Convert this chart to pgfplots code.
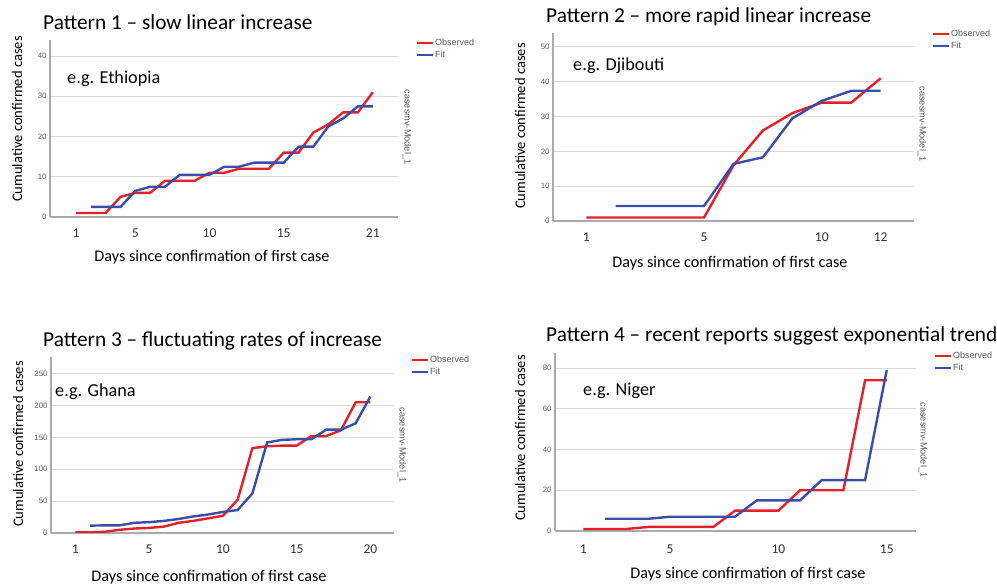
\documentclass[border=0pt]{standalone}
\usepackage{fontspec}
\setmainfont{Carlito}
\newfontfamily\arialf{Liberation Sans}
\usepackage{pgfplots}
\pgfplotsset{compat=1.18}

\definecolor{obsred}{RGB}{230,32,40}
\definecolor{fitblue}{RGB}{56,78,168}
\definecolor{gridgray}{RGB}{218,218,218}
\definecolor{axgray}{RGB}{170,170,170}
\definecolor{txtgray}{RGB}{90,90,90}

\pgfplotsset{
  panel/.style={
    scale only axis,
    axis lines*=left,
    axis line style={axgray, line width=1.3pt},
    ymajorgrids,
    grid style={gridgray, line width=1pt},
    major tick length=0pt,
    ymin=0,
    yticklabel style={font=\arialf\fontsize{7.8}{9}\selectfont, text=txtgray},
    xticklabel style={font=\fontsize{13.5}{15}\selectfont, text=black!80, yshift=-8pt},
    /pgf/number format/assume math mode=true,
    legend style={draw=none, fill=none, font=\arialf\fontsize{9}{10}\selectfont,
      text=txtgray, inner sep=0pt, row sep=2.5pt, nodes={inner sep=0.8pt},
      cells={anchor=west}},
    legend image code/.code={\draw[##1, line width=2pt] (0pt,0pt) -- (16pt,0pt);},
  },
  obs/.style={obsred, line width=2.4pt, no markers},
  fit/.style={fitblue, line width=2.4pt, no markers},
}

\newcommand{\titlefont}{\fontsize{21.3}{25}\selectfont}
\newcommand{\egfont}{\fontsize{18.2}{21}\selectfont}
\newcommand{\ylabfont}{\fontsize{14.6}{17}\selectfont}
\newcommand{\xlabfont}{\fontsize{16.2}{19}\selectfont}
\newcommand{\modfont}{\arialf\fontsize{9.2}{11}\selectfont\color{txtgray}}

\begin{document}
\begin{tikzpicture}
\useasboundingbox (0,0) rectangle (997pt,586pt);

% ---- Pattern 1: Ethiopia
\begin{axis}[panel, at={(50pt,369pt)}, anchor=south west,
  width=348pt, height=177pt,
  xmin=-0.75, xmax=22.7, ymax=44,
  ytick={0,10,20,30,40},
  xtick={1,5,10,15,21},
  legend style={at={(1.052,1.01)}, anchor=north west}]
\addplot[obs] coordinates {(1,1) (2,1) (3,1) (4,5) (5,6) (6,6) (7,9) (8,9) (9,9)
  (10,11) (11,11) (12,12) (13,12) (14,12) (15,16) (16,16) (17,21) (18,23)
  (19,26) (20,26) (21,31)};
\addlegendentry{Observed}
\addplot[fit] coordinates {(2,2.5) (3,2.5) (4,2.5) (5,6.5) (6,7.5) (7,7.5)
  (8,10.5) (9,10.5) (10,10.5) (11,12.5) (12,12.5) (13,13.5) (14,13.5)
  (15,13.5) (16,17.5) (17,17.5) (18,22.5) (19,24.5) (20,27.5) (21,27.5)};
\addlegendentry{Fit}
\end{axis}

% ---- Pattern 2: Djibouti
\begin{axis}[panel, at={(553pt,365pt)}, anchor=south west,
  width=361pt, height=188pt,
  xmin=-1.13, xmax=11.13, ymax=54,
  ytick={0,10,20,30,40,50},
  xtick={0,4,8,10}, xticklabels={1,5,10,12},
  legend style={at={(1.05,1.02)}, anchor=north west}]
\addplot[obs] coordinates {(0,1) (1,1) (2,1) (3,1) (4,1) (5,16) (6,26) (7,31)
  (8,34) (9,34) (10,41)};
\addlegendentry{Observed}
\addplot[fit] coordinates {(1,4.3) (2,4.3) (3,4.3) (4,4.3) (5,16.4) (6,18.3)
  (7,29.5) (8,34.5) (9,37.4) (10,37.4)};
\addlegendentry{Fit}
\end{axis}

% ---- Pattern 3: Ghana
\begin{axis}[panel, at={(51pt,53pt)}, anchor=south west,
  width=343pt, height=176pt,
  xmin=-1.65, xmax=21.6, ymax=276,
  ytick={0,50,100,150,200,250},
  xtick={0,5,10,15,20}, xticklabels={1,5,10,15,20},
  legend style={at={(1.05,1.01)}, anchor=north west}]
\addplot[obs] coordinates {(0,1) (1,1) (2,2) (3,5) (4,7) (5,8) (6,10) (7,16)
  (8,19) (9,23) (10,27) (11,52) (12,133) (13,136) (14,137) (15,137) (16,152)
  (17,152) (18,161) (19,205) (20,205)};
\addlegendentry{Observed}
\addplot[fit] coordinates {(1,11.5) (2,12) (3,12) (4,16) (5,17) (6,19) (7,22)
  (8,26) (9,29) (10,33) (11,36) (12,62) (13,142) (14,146) (15,147) (16,147)
  (17,162) (18,162) (19,172) (20,214)};
\addlegendentry{Fit}
\end{axis}

% ---- Pattern 4: Niger
\begin{axis}[panel, at={(555pt,55pt)}, anchor=south west,
  width=361pt, height=178pt,
  xmin=-0.31, xmax=16.35, ymax=87.4,
  ytick={0,20,40,60,80},
  xtick={1,5,10,15},
  xticklabel style={yshift=-2pt},
  legend style={at={(1.05,1.01)}, anchor=north west}]
\addplot[obs] coordinates {(1,1) (2,1) (3,1) (4,2) (5,2) (6,2) (7,2) (8,10)
  (9,10) (10,10) (11,20) (12,20) (13,20) (14,74) (15,74)};
\addlegendentry{Observed}
\addplot[fit] coordinates {(2,6) (3,6) (4,6) (5,7) (6,7) (7,7) (8,7) (9,15)
  (10,15) (11,15) (12,25) (13,25) (14,25) (15,79)};
\addlegendentry{Fit}
\end{axis}

% titles
\node[anchor=west, inner sep=0pt] at (43pt,564pt) {\titlefont Pattern 1 – slow linear increase};
\node[anchor=west, inner sep=0pt] at (546pt,569pt) {\titlefont Pattern 2 – more rapid linear increase};
\node[anchor=west, inner sep=0pt] at (43pt,245pt) {\titlefont Pattern 3 – fluctuating rates of increase};
\node[anchor=west, inner sep=0pt] at (546pt,250pt) {\titlefont Pattern 4 – recent reports suggest exponential trend};

% country notes
\node[anchor=west, inner sep=0pt] at (67pt,507pt) {\egfont e.g. Ethiopia};
\node[anchor=west, inner sep=0pt] at (573pt,520pt) {\egfont e.g. Djibouti};
\node[anchor=west, inner sep=0pt] at (55pt,194pt) {\egfont e.g. Ghana};
\node[anchor=west, inner sep=0pt] at (583pt,195pt) {\egfont e.g. Niger};

% y labels
\node[rotate=90, inner sep=0pt] at (17pt,467pt) {\ylabfont Cumulative confirmed cases};
\node[rotate=90, inner sep=0pt] at (520pt,460pt) {\ylabfont Cumulative confirmed cases};
\node[rotate=90, inner sep=0pt] at (18pt,142pt) {\ylabfont Cumulative confirmed cases};
\node[rotate=90, inner sep=0pt] at (520pt,148pt) {\ylabfont Cumulative confirmed cases};

% x labels
\node[inner sep=0pt] at (212pt,329pt) {\xlabfont Days since confirmation of first case};
\node[inner sep=0pt] at (730pt,323pt) {\xlabfont Days since confirmation of first case};
\node[inner sep=0pt] at (209pt,9pt) {\xlabfont Days since confirmation of first case};
\node[inner sep=0pt] at (748pt,12pt) {\xlabfont Days since confirmation of first case};

% model labels
\node[rotate=-90, inner sep=0pt] at (407pt,459pt) {\modfont casesmv-Model\_1};
\node[rotate=-90, inner sep=0pt] at (922pt,462pt) {\modfont casesmv-Model\_1};
\node[rotate=-90, inner sep=0pt] at (402pt,141pt) {\modfont casesmv-Model\_1};
\node[rotate=-90, inner sep=0pt] at (923pt,146pt) {\modfont casesmv-Model\_1};
\end{tikzpicture}
\end{document}
